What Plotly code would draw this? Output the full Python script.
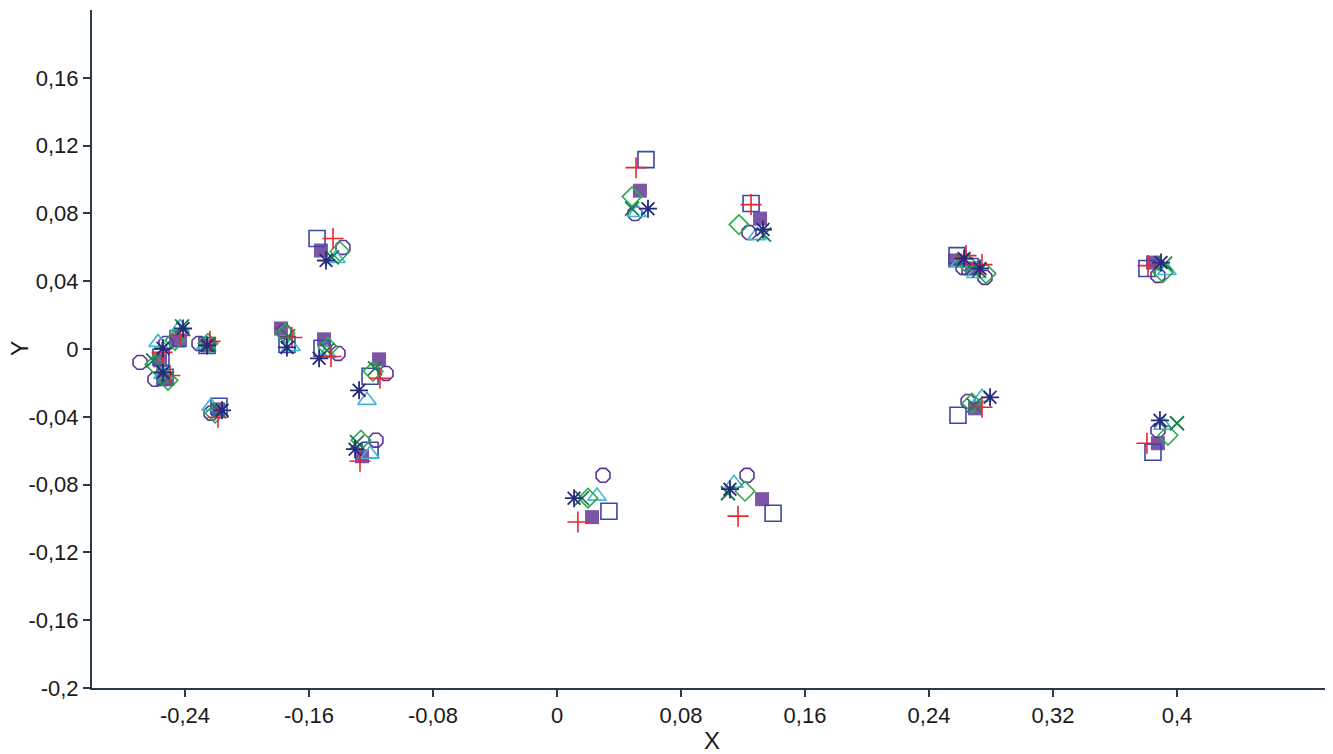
import plotly.graph_objects as go

# 19 objects, 8 assessors (series)
plus_x = [-0.2548, -0.2497, -0.2432, -0.2239, -0.2187, -0.1710, -0.1445, -0.1458, -0.1142, -0.1271,
          0.0510, 0.1252, 0.2639, 0.2742, 0.3813, 0.0135, 0.1168, 0.2742, 0.3806]
plus_y = [-0.0020, -0.0156, 0.0080, 0.0045, -0.0403, 0.0068, 0.0652, -0.0044, -0.0173, -0.0662,
          0.1070, 0.0852, 0.0551, 0.0498, 0.0492, -0.1021, -0.0986, -0.0344, -0.0556]

osq_x = [-0.2555, -0.2529, -0.2445, -0.2258, -0.2181, -0.1742, -0.1548, -0.1516, -0.1206, -0.1206,
         0.0574, 0.1252, 0.2581, 0.2665, 0.3806, 0.0335, 0.1394, 0.2587, 0.3845]
osq_y = [-0.0049, -0.0167, 0.0062, 0.0021, -0.0338, 0.0027, 0.0652, 0.0004, -0.0161, -0.0597,
         0.1117, 0.0858, 0.0551, 0.0487, 0.0475, -0.0957, -0.0969, -0.0391, -0.0609]

fsq_x = [-0.2561, -0.2529, -0.2445, -0.2252, -0.2187, -0.1781, -0.1523, -0.1503, -0.1148, -0.1258,
         0.0535, 0.1310, 0.2568, 0.2677, 0.3845, 0.0226, 0.1323, 0.2697, 0.3877]
fsq_y = [-0.0067, -0.0179, 0.0051, 0.0021, -0.0356, 0.0121, 0.0581, 0.0057, -0.0061, -0.0633,
         0.0934, 0.0769, 0.0522, 0.0475, 0.0510, -0.0992, -0.0886, -0.0350, -0.0556]

dia_x = [-0.2594, -0.2510, -0.2465, -0.2252, -0.2206, -0.1755, -0.1400, -0.1477, -0.1187, -0.1265,
         0.0484, 0.1174, 0.2639, 0.2768, 0.3910, 0.0200, 0.1213, 0.2677, 0.3942]
dia_y = [-0.0091, -0.0185, 0.0051, 0.0033, -0.0379, 0.0092, 0.0575, 0.0009, -0.0132, -0.0538,
         0.0899, 0.0734, 0.0510, 0.0445, 0.0451, -0.0880, -0.0839, -0.0320, -0.0509]

x_x = [-0.2606, -0.2516, -0.2419, -0.2245, -0.2181, -0.1735, -0.1452, -0.1484, -0.1174, -0.1290,
       0.0484, 0.1335, 0.2619, 0.2723, 0.3923, 0.0161, 0.1103, 0.2690, 0.4000]
x_y = [-0.0067, -0.0173, 0.0133, 0.0027, -0.0368, 0.0074, 0.0540, -0.0008, -0.0114, -0.0550,
       0.0828, 0.0675, 0.0522, 0.0463, 0.0504, -0.0880, -0.0851, -0.0332, -0.0438]

tri_x = [-0.2574, -0.2542, -0.2432, -0.2265, -0.2232, -0.1716, -0.1426, -0.1484, -0.1226, -0.1206,
         0.0516, 0.1290, 0.2600, 0.2703, 0.3935, 0.0258, 0.1142, 0.2742, 0.3910]
tri_y = [0.0039, -0.0150, 0.0127, 0.0027, -0.0338, 0.0015, 0.0534, -0.0026, -0.0303, -0.0621,
         0.0805, 0.0669, 0.0510, 0.0445, 0.0463, -0.0868, -0.0792, -0.0285, -0.0450]

cir_x = [-0.2690, -0.2594, -0.2523, -0.2310, -0.2232, -0.1761, -0.1381, -0.1413, -0.1103, -0.1168,
         0.0503, 0.1239, 0.2619, 0.2761, 0.3877, 0.0297, 0.1226, 0.2652, 0.3877]
cir_y = [-0.0079, -0.0179, 0.0033, 0.0033, -0.0379, 0.0104, 0.0599, -0.0026, -0.0144, -0.0538,
         0.0799, 0.0687, 0.0481, 0.0422, 0.0434, -0.0745, -0.0745, -0.0309, -0.0480]

ast_x = [-0.2542, -0.2542, -0.2413, -0.2258, -0.2161, -0.1742, -0.1490, -0.1535, -0.1277, -0.1303,
         0.0587, 0.1329, 0.2626, 0.2729, 0.3897, 0.0110, 0.1116, 0.2794, 0.3890]
ast_y = [0.0004, -0.0138, 0.0121, 0.0021, -0.0362, 0.0009, 0.0522, -0.0055, -0.0244, -0.0591,
         0.0828, 0.0705, 0.0534, 0.0475, 0.0510, -0.0880, -0.0827, -0.0285, -0.0421]

x_ticks = [-0.24, -0.16, -0.08, 0, 0.08, 0.16, 0.24, 0.32, 0.4]
x_tick_text = ["-0,24", "-0,16", "-0,08", "0", "0,08", "0,16", "0,24", "0,32", "0,4"]
y_ticks = [-0.2, -0.16, -0.12, -0.08, -0.04, 0, 0.04, 0.08, 0.12, 0.16]
y_tick_text = ["-0,2", "-0,16", "-0,12", "-0,08", "-0,04", "0", "0,04", "0,08", "0,12", "0,16"]

fig = go.Figure()

series = [
    (fsq_x, fsq_y, "square", "#7d55a6", 14, 0),
    (osq_x, osq_y, "square-open", "#3a48a6", 16, 1.6),
    (cir_x, cir_y, "octagon-open", "#5b3596", 15, 1.6),
    (tri_x, tri_y, "triangle-up-open", "#3fb6d2", 16, 1.6),
    (dia_x, dia_y, "diamond-open", "#2eaa4c", 15, 1.6),
    (x_x, x_y, "x-thin-open", "#17804a", 14, 1.8),
    (plus_x, plus_y, "cross-thin-open", "#e8262e", 15, 1.6),
    (ast_x, ast_y, "asterisk-open", "#262a7c", 15, 1.8),
]
for xs, ys, sym, col, size, lw in series:
    fig.add_trace(go.Scatter(
        x=xs, y=ys, mode="markers",
        marker=dict(symbol=sym, size=size, color=col,
                    line=dict(color=col, width=lw)),
        showlegend=False, hoverinfo="skip"))

axis_col = "#2b3a48"
fig.update_xaxes(range=[-0.3, 0.5], tickvals=x_ticks, ticktext=x_tick_text,
                 showline=True, linecolor=axis_col, linewidth=2, mirror=False,
                 ticks="outside", ticklen=7, tickwidth=1.5, tickcolor=axis_col,
                 showgrid=False, zeroline=False,
                 tickfont=dict(family="Liberation Sans", size=22, color="#1a1a1a"))
fig.update_yaxes(range=[-0.2, 0.2], tickvals=y_ticks, ticktext=y_tick_text,
                 showline=True, linecolor=axis_col, linewidth=2, mirror=False,
                 ticks="outside", ticklen=7, tickwidth=1.5, tickcolor=axis_col,
                 showgrid=False, zeroline=False,
                 tickfont=dict(family="Liberation Sans", size=22, color="#1a1a1a"))

fig.add_annotation(text="X", xref="paper", yref="paper", x=0.5, y=-0.077,
                   showarrow=False, xanchor="center", yanchor="middle",
                   font=dict(family="Liberation Sans", size=24, color="#1a1a1a"))
fig.add_annotation(text="Y", xref="paper", yref="paper", x=-0.058, y=0.5,
                   showarrow=False, textangle=-90, xanchor="center", yanchor="middle",
                   font=dict(family="Liberation Sans", size=23, color="#1a1a1a"))

# page body has an 8px default margin, so the figure is sized to fit inside it
fig.update_layout(width=1325, height=746, plot_bgcolor="white", paper_bgcolor="white",
                  margin=dict(l=84, r=1, t=2, b=66))

fig.write_html("out.html")
